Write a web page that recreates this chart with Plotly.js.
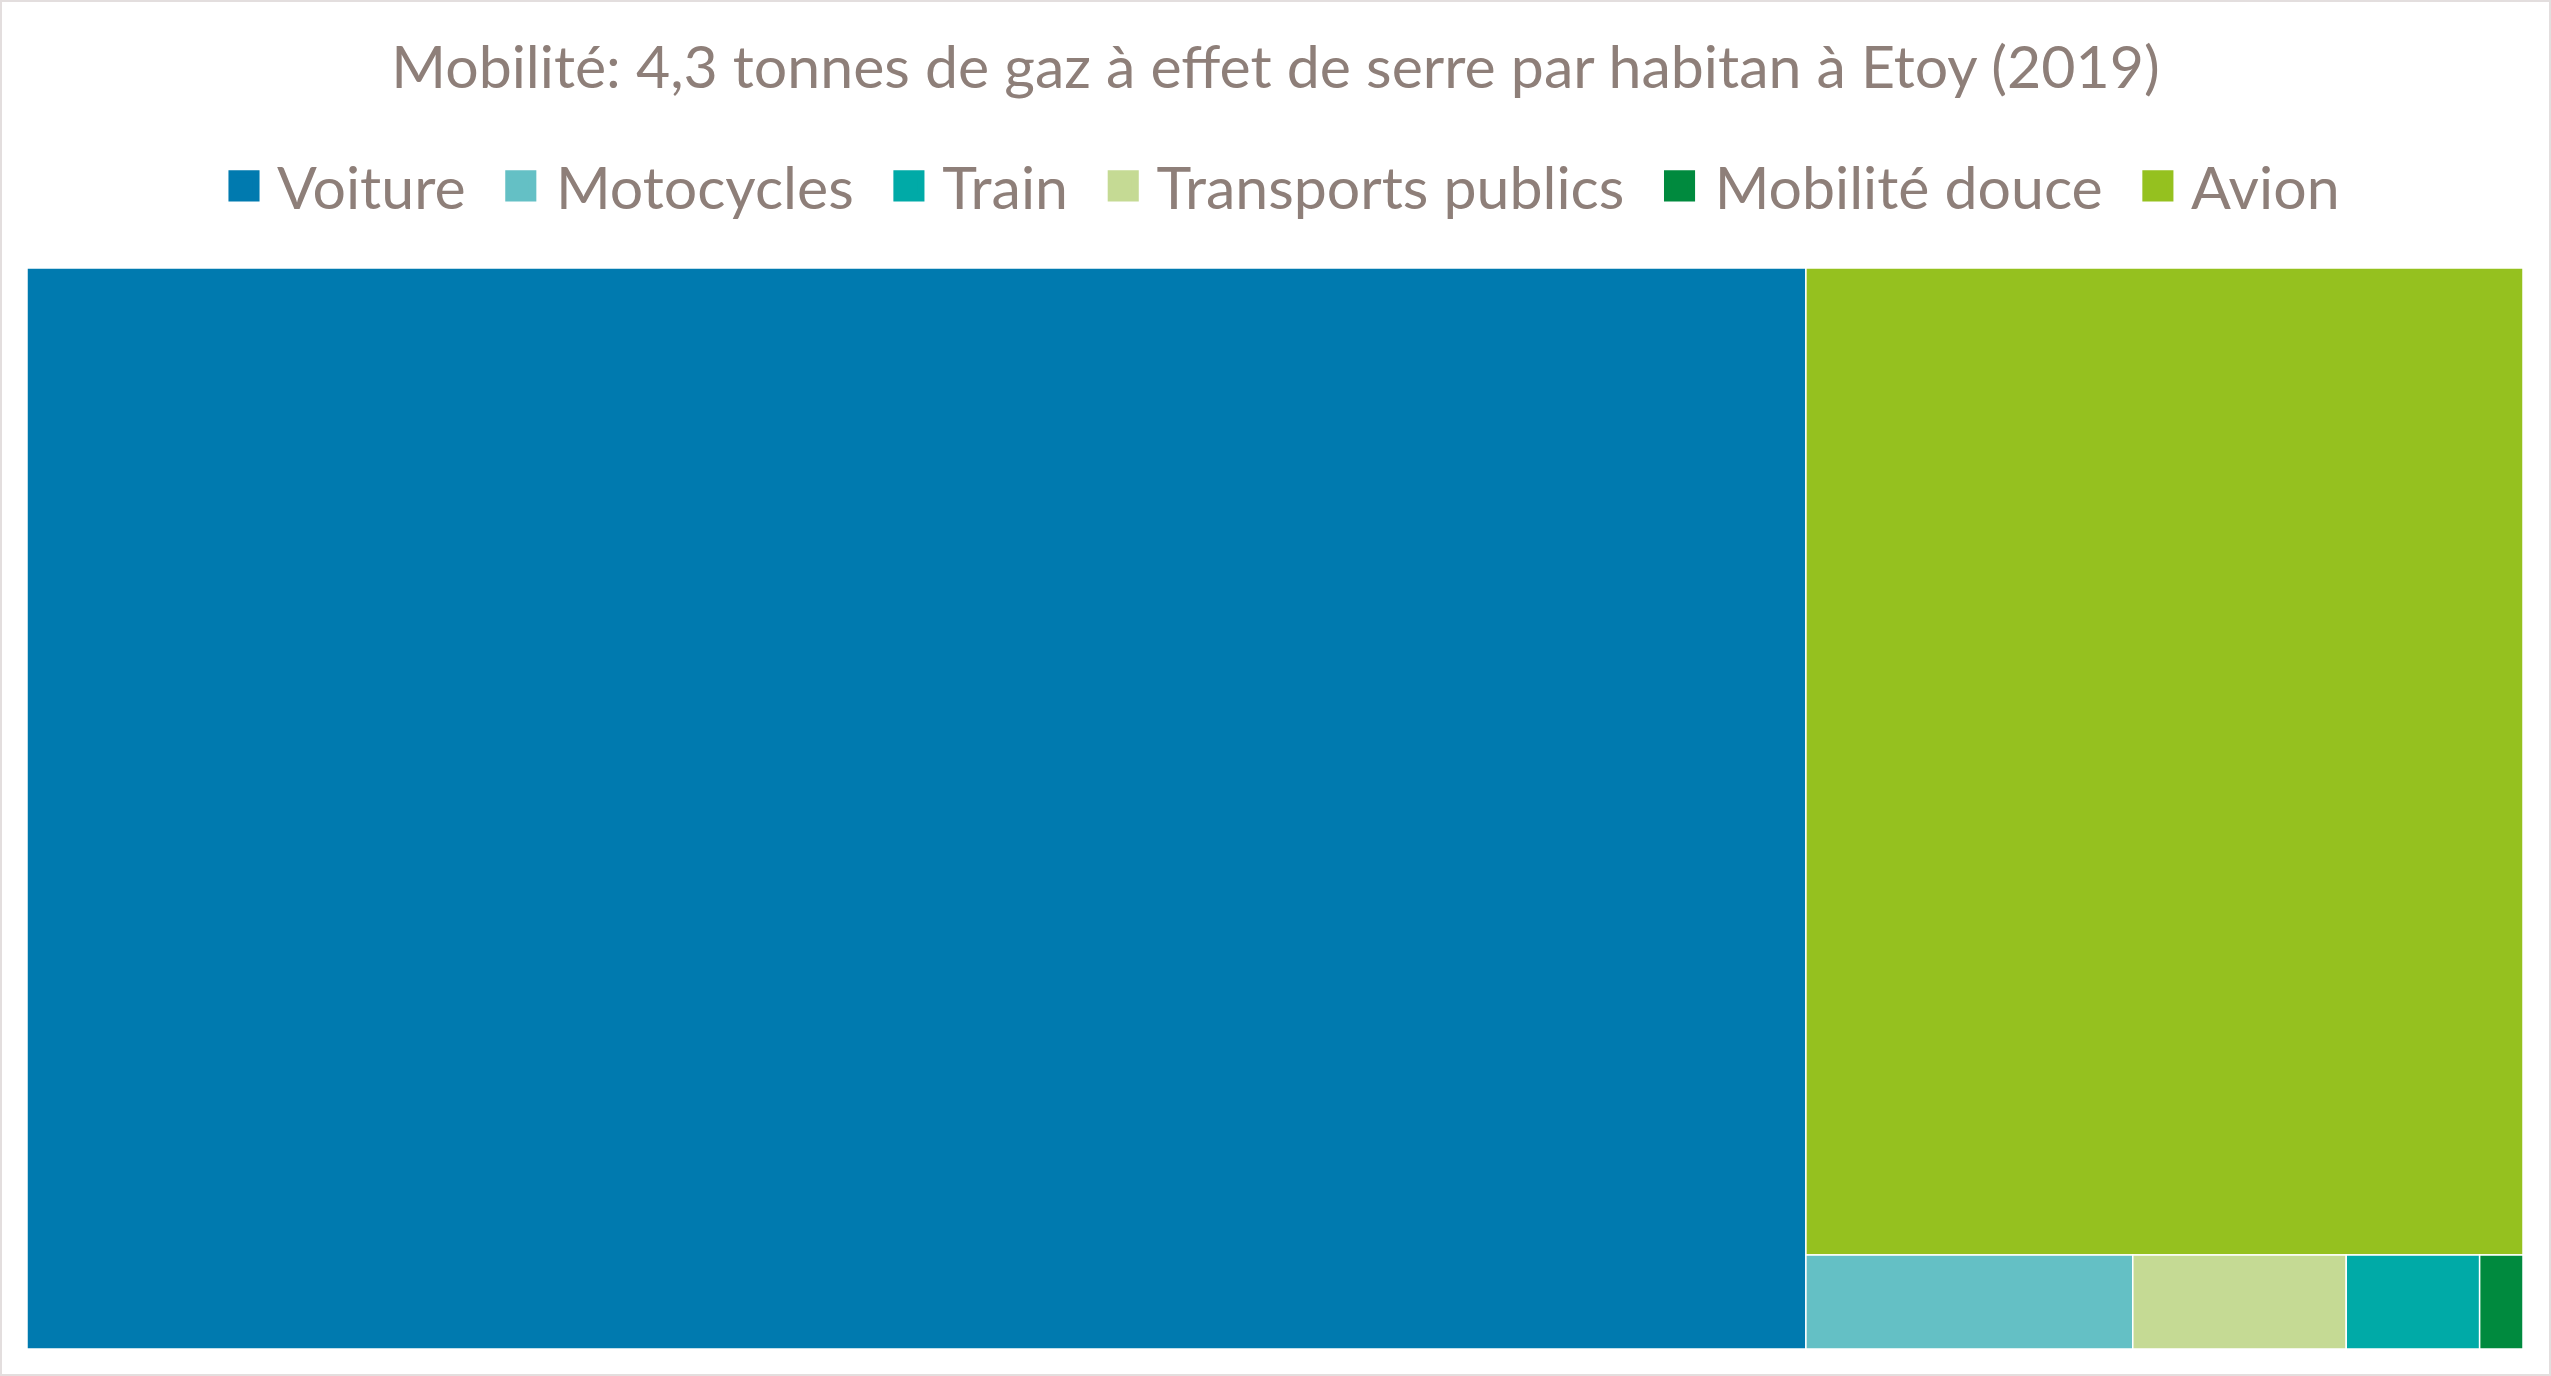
<!DOCTYPE html>
<html>
<head>
<meta charset="utf-8">
<script src="https://cdn.plot.ly/plotly-3.0.1.min.js"></script>
<style>html,body{margin:0;padding:0;background:#fff;}#chart{width:2551px;height:1376px;}</style>
</head>
<body>
<div id="chart"></div>
<script>
// Data (tonnes CO2-eq per inhabitant, total 4.3)
var categories = ["Voiture", "Motocycles", "Train", "Transports publics", "Mobilité douce", "Avion"];
var values = [3.065, 0.049, 0.020, 0.032, 0.0065, 1.128];
var colors = ["#007AAF", "#64C0C5", "#00AAA7", "#C5DA94", "#008A3E", "#95C11F"];
var titleText = "Mobilité: 4,3 tonnes de gaz à effet de serre par habitan à Etoy (2019)";

var textColor = "#8E7F79";
var fontFam = "Lato, 'Open Sans', sans-serif";

var traces = [{
  type: "treemap",
  labels: categories,
  parents: categories.map(function(){ return ""; }),
  values: values,
  marker: { colors: colors, line: { color: "#ffffff", width: 1.5 }, pad: {t:0,l:0,r:0,b:0} },
  tiling: { packing: "squarify", pad: 0 },
  pathbar: { visible: false },
  textinfo: "none",
  sort: true,
  domain: { x: [27/2551, 2523/2551], y: [27/1376, 1108/1376] },
  showlegend: false
}];

categories.forEach(function(c, i) {
  traces.push({
    type: "scatter", mode: "markers", name: "\u00A0" + c + "\u00A0\u00A0",
    x: [null], y: [null],
    marker: { symbol: "square", size: 16, color: colors[i], line: { color: colors[i], width: 5 } },
    showlegend: true, hoverinfo: "skip"
  });
});

var layout = {
  width: 2551, height: 1376,
  margin: { l: 0, r: 0, t: 0, b: 0 },
  paper_bgcolor: "#ffffff", plot_bgcolor: "#ffffff",
  font: { family: fontFam, color: textColor },
  title: { text: titleText, font: { family: fontFam, size: 59, color: textColor },
           x: 0.5, xanchor: "center", y: 1 - 67/1376, yanchor: "middle" },
  showlegend: true,
  legend: { orientation: "h", x: 0.5 + 24/2551, xanchor: "center", y: 1 - 186/1376, yanchor: "middle",
            font: { family: fontFam, size: 59, color: textColor }, itemclick: false, itemdoubleclick: false },
  xaxis: { visible: false }, yaxis: { visible: false },
  shapes: [{ type: "rect", xref: "paper", yref: "paper", x0: 0, x1: 1, y0: 0, y1: 1,
             line: { color: "#E3DEDE", width: 4 } }]
};

var gd = document.getElementById("chart");
function enlargeLegendSymbols() {
  gd.querySelectorAll(".legendpoints path.scatterpts").forEach(function(p) {
    var base = p.getAttribute("data-base-transform");
    if (base === null) { base = p.getAttribute("transform") || ""; p.setAttribute("data-base-transform", base); }
    p.setAttribute("transform", base + " scale(1.48)");
  });
}
Plotly.newPlot(gd, traces, layout, { displayModeBar: false }).then(function() {
  enlargeLegendSymbols();
  gd.on("plotly_afterplot", enlargeLegendSymbols);
});
</script>
</body>
</html>
